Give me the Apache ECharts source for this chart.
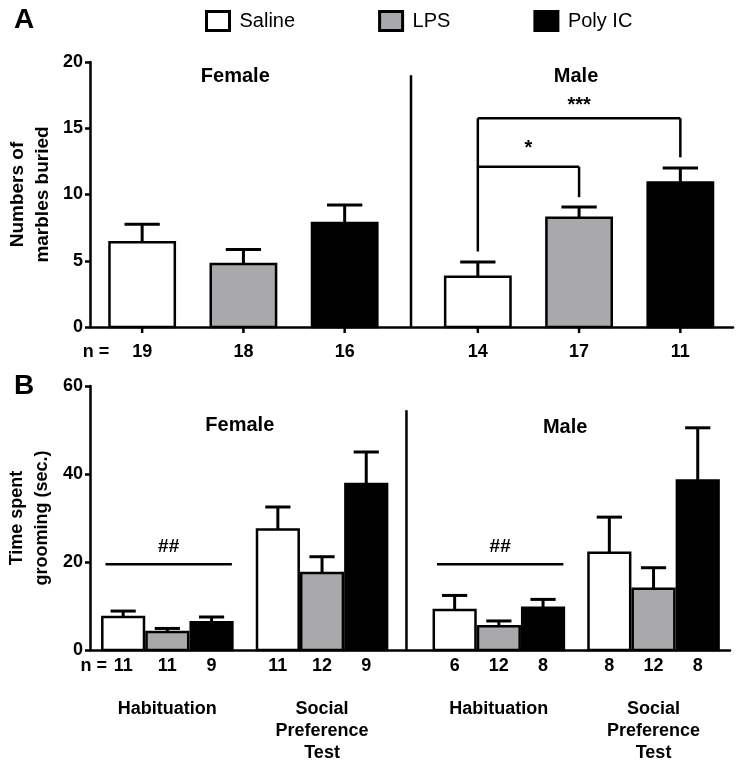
<!DOCTYPE html>
<html>
<head>
<meta charset="utf-8">
<script src="https://cdn.jsdelivr.net/npm/echarts@6/dist/echarts.min.js"></script>
<style>
html,body{margin:0;padding:0;background:#fff;}
#chart{width:737px;height:763px;}
</style>
</head>
<body>
<div id="chart"></div>
<script>
// ---------------- DATA ----------------
const treatments = ['Saline', 'LPS', 'Poly IC'];
const sexes = ['Female', 'Male'];
const phases = ['Habituation', 'Social\nPreference\nTest'];
const yTitleA = 'Numbers of\nmarbles buried';
const yTitleB = 'Time spent\ngrooming (sec.)';

// Panel A: marbles buried [Female, Male]
const salineMarbles = [6.4, 3.8];
const salineMarblesSem = [1.35, 1.1];
const salineMarblesN = [19, 14];
const lpsMarbles = [4.75, 8.25];
const lpsMarblesSem = [1.1, 0.8];
const lpsMarblesN = [18, 17];
const polyMarbles = [7.85, 10.9];
const polyMarblesSem = [1.35, 1.1];
const polyMarblesN = [16, 11];
const marbleTicks = [0, 5, 10, 15, 20];

// Panel B: grooming time [F-Hab, F-SPT, M-Hab, M-SPT]
const salineGroom = [7.5, 27.4, 9.1, 22.1];
const salineGroomSem = [1.35, 5.1, 3.3, 8.1];
const salineGroomN = [11, 11, 6, 8];
const lpsGroom = [4.1, 17.5, 5.4, 13.9];
const lpsGroomSem = [0.8, 3.7, 1.2, 4.8];
const lpsGroomN = [11, 12, 12, 12];
const polyGroom = [6.3, 37.7, 9.6, 38.5];
const polyGroomSem = [1.2, 7.3, 1.9, 12.0];
const polyGroomN = [9, 9, 8, 8];
const groomTicks = [0, 20, 40, 60];

// ---------------- LAYOUT ----------------
const FONT = 'Arial, "Liberation Sans", sans-serif';
const fills = ['#ffffff', '#a9a9ab', '#000000'];
const groupStartA = [0.515, 3.83];
const groupStartB = [0.75, 4.25, 8.25, 11.75];
const barWA = 0.67, barWB = 1.0;
const maxXA = 6.35, maxXB = 14.48;

function buildData(means, sems, ns, starts, tIdx) {
  return means.map((m, i) => [starts[i] + tIdx, m, sems[i], ns[i]]);
}

function barRender(barW, fill, capFrac, showTick, nOffset) {
  return function (params, api) {
    const x = api.value(0), m = api.value(1), e = api.value(2), n = api.value(3);
    const base = api.coord([x, 0]);
    const top = api.coord([x, m]);
    const et = api.coord([x, m + e]);
    const w = api.size([barW, 0])[0];
    const cap = w * capFrac;
    const children = [
      { type: 'line', shape: { x1: top[0], y1: top[1], x2: et[0], y2: et[1] },
        style: { stroke: '#000', lineWidth: 3 } },
      { type: 'line', shape: { x1: et[0] - cap / 2, y1: et[1], x2: et[0] + cap / 2, y2: et[1] },
        style: { stroke: '#000', lineWidth: 3 } },
      { type: 'rect', shape: { x: base[0] - w / 2 + 1.25, y: top[1], width: w - 2.5, height: base[1] - top[1] },
        style: { fill: fill, stroke: '#000', lineWidth: 2.5 } },
      { type: 'text', x: base[0], y: base[1] + nOffset,
        style: { text: String(n), font: 'bold 18px ' + FONT, fill: '#000', align: 'center', verticalAlign: 'middle' } }
    ];
    if (showTick) {
      children.push({ type: 'line', shape: { x1: base[0], y1: base[1], x2: base[0], y2: base[1] + 6 },
        style: { stroke: '#000', lineWidth: 2.5 } });
    }
    return { type: 'group', children: children };
  };
}

const marbleSets = [[salineMarbles, salineMarblesSem, salineMarblesN], [lpsMarbles, lpsMarblesSem, lpsMarblesN], [polyMarbles, polyMarblesSem, polyMarblesN]];
const groomSets = [[salineGroom, salineGroomSem, salineGroomN], [lpsGroom, lpsGroomSem, lpsGroomN], [polyGroom, polyGroomSem, polyGroomN]];

const series = [];
treatments.forEach((t, i) => {
  series.push({
    type: 'custom', name: t, xAxisIndex: 0, yAxisIndex: 0, z: 3,
    itemStyle: { color: fills[i], borderColor: '#000' },
    renderItem: barRender(barWA, fills[i], 0.52, true, 25),
    data: buildData(marbleSets[i][0], marbleSets[i][1], marbleSets[i][2], groupStartA, i)
  });
});
treatments.forEach((t, i) => {
  series.push({
    type: 'custom', name: t, xAxisIndex: 1, yAxisIndex: 1, z: 3,
    itemStyle: { color: fills[i], borderColor: '#000' },
    renderItem: barRender(barWB, fills[i], 0.57, false, 16),
    data: buildData(groomSets[i][0], groomSets[i][1], groomSets[i][2], groupStartB, i)
  });
});

function txt(p, s, size, extra) {
  return Object.assign({ type: 'text', x: p[0], y: p[1],
    style: { text: s, font: 'bold ' + size + 'px ' + FONT, fill: '#000', align: 'center', verticalAlign: 'middle', lineHeight: 22 } }, extra || {});
}
function ln(a, b) {
  return { type: 'line', shape: { x1: a[0], y1: a[1], x2: b[0], y2: b[1] }, style: { stroke: '#000', lineWidth: 2.5 } };
}
function yTitle(c, ymax, s, size) {
  const lo = c([0, 0]), hi = c([0, ymax]);
  return { type: 'text', x: lo[0] - 60, y: (lo[1] + hi[1]) / 2, rotation: Math.PI / 2,
    style: { text: s, font: 'bold ' + size + 'px ' + FONT, fill: '#000', align: 'center', verticalAlign: 'middle', lineHeight: 25 } };
}

// Annotations panel A
series.push({
  type: 'custom', xAxisIndex: 0, yAxisIndex: 0, z: 4, silent: true, data: [[0, 0]],
  renderItem: function (params, api) {
    const c = v => api.coord(v);
    const s0 = groupStartA[1], s1 = s0 + 1, s2 = s0 + 2;
    const base0 = c([0, 0]);
    return { type: 'group', children: [
      ln(c([3.17, 0]), c([3.17, 19.0])),
      ln(c([s0, 5.7]), c([s0, 15.75])),
      ln(c([s0, 15.75]), c([s2, 15.75])),
      ln(c([s2, 15.75]), c([s2, 12.8])),
      ln(c([s0, 12.1]), c([s1, 12.1])),
      ln(c([s1, 12.1]), c([s1, 9.8])),
      txt(c([(s0 + s1) / 2, 13.5]), '*', 20),
      txt(c([(s0 + s2) / 2, 16.75]), '***', 20),
      txt(c([groupStartA[0] + 0.92, 18.9]), sexes[0], 20),
      txt(c([s0 + 0.97, 18.9]), sexes[1], 20),
      txt([base0[0] + 6, base0[1] + 25], 'n =', 18),
      yTitle(c, marbleTicks[marbleTicks.length - 1], yTitleA, 19)
    ] };
  }
});

// Annotations panel B
series.push({
  type: 'custom', xAxisIndex: 1, yAxisIndex: 1, z: 4, silent: true, data: [[0, 0]],
  renderItem: function (params, api) {
    const c = v => api.coord(v);
    const ch = [ln(c([7.16, 0]), c([7.16, 54.5]))];
    [0, 2].forEach(g => {
      const a = groupStartB[g] - 0.4, b = groupStartB[g] + 2.46;
      ch.push(ln(c([a, 19.5]), c([b, 19.5])));
      ch.push(txt(c([(a + b) / 2, 23.4]), '##', 19));
    });
    groupStartB.forEach((s, g) => {
      const p = c([s + 1, 0]);
      ch.push({ type: 'text', x: p[0], y: p[1] + 48,
        style: { text: phases[g % 2], font: 'bold 18px ' + FONT, fill: '#000', align: 'center', verticalAlign: 'top', lineHeight: 22 } });
    });
    ch.push(txt(c([groupStartB[0] + 2.64, 51]), sexes[0], 20));
    ch.push(txt(c([groupStartB[2] + 2.5, 50.6]), sexes[1], 20));
    const b0 = c([0, 0]);
    ch.push({ type: 'text', x: b0[0] + 17, y: b0[1] + 16,
      style: { text: 'n =', font: 'bold 18px ' + FONT, fill: '#000', align: 'right', verticalAlign: 'middle' } });
    ch.push(yTitle(c, groomTicks[groomTicks.length - 1], yTitleB, 18));
    return { type: 'group', children: ch };
  }
});

const axisLine = { show: true, onZero: false, lineStyle: { color: '#000', width: 2.5 } };
function yAx(gi, max, interval) {
  return {
    type: 'value', gridIndex: gi, min: 0, max: max, interval: interval,
    axisLine: axisLine,
    axisTick: { show: true, length: 5, lineStyle: { color: '#000', width: 2.5 } },
    axisLabel: { color: '#000', fontSize: 18, fontWeight: 'bold', fontFamily: FONT, margin: 7 },
    splitLine: { show: false }
  };
}
function xAx(gi, max) {
  return {
    type: 'value', gridIndex: gi, min: 0, max: max,
    axisLine: axisLine, axisTick: { show: false }, axisLabel: { show: false }, splitLine: { show: false }
  };
}

const option = {
  animation: false,
  backgroundColor: '#fff',
  title: [
    { text: 'A', left: 9, top: 1, textStyle: { fontSize: 28, fontWeight: 'bold', fontFamily: FONT, color: '#000' } },
    { text: 'B', left: 9, top: 367, textStyle: { fontSize: 28, fontWeight: 'bold', fontFamily: FONT, color: '#000' } }
  ],
  legend: {
    left: 200, top: 5, itemWidth: 23, itemHeight: 19, itemGap: 83, selectedMode: false,
    textStyle: { fontSize: 20, fontFamily: FONT, color: '#000', padding: [0, 0, 0, 5] },
    data: treatments.map((t, i) => ({ name: t, icon: 'rect', itemStyle: { color: fills[i], borderColor: '#000', borderWidth: 3 } }))
  },
  grid: [
    { left: 90, top: 62, right: 4, height: 265, outerBoundsMode: 'none', containLabel: false },
    { left: 90, top: 386, right: 7, height: 264, outerBoundsMode: 'none', containLabel: false }
  ],
  xAxis: [xAx(0, maxXA), xAx(1, maxXB)],
  yAxis: [
    yAx(0, marbleTicks[marbleTicks.length - 1], marbleTicks[1] - marbleTicks[0]),
    yAx(1, groomTicks[groomTicks.length - 1], groomTicks[1] - groomTicks[0])
  ],
  series: series
};

const chart = echarts.init(document.getElementById('chart'), null, { renderer: 'canvas' });
chart.setOption(option);
</script>
</body>
</html>
